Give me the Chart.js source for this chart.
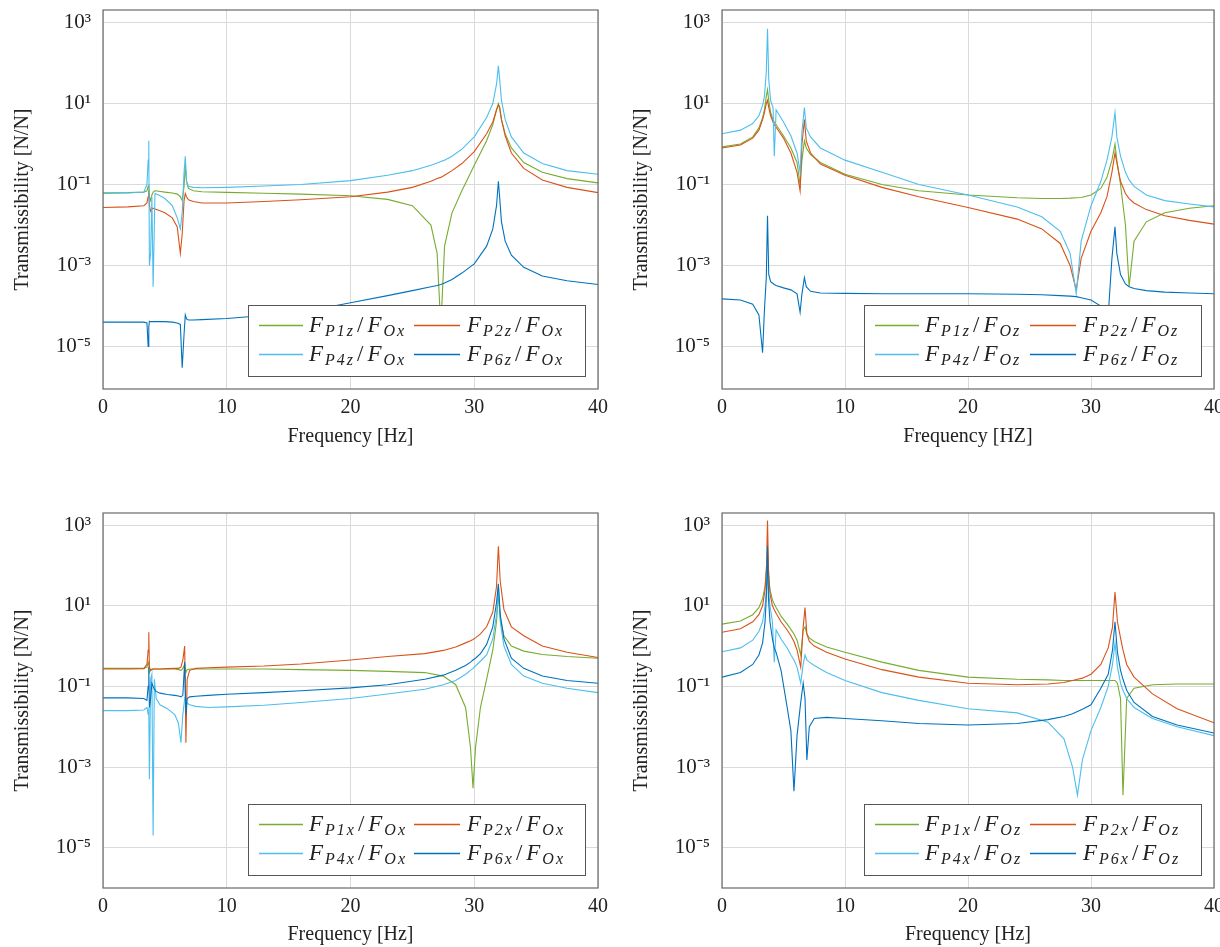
<!DOCTYPE html>
<html>
<head>
<meta charset="utf-8">
<script src="https://cdn.jsdelivr.net/npm/chart.js@4.4.1/dist/chart.umd.min.js"></script>
<style>
  html, body { margin: 0; padding: 0; background: #fff; overflow: hidden; width: 1220px; height: 947px; }
  canvas { position: absolute; }
</style>
</head>
<body>
<canvas id="tl" width="610" height="460" style="left:0;top:0"></canvas>
<canvas id="tr" width="625" height="460" style="left:610px;top:0"></canvas>
<canvas id="bl" width="610" height="477" style="left:0;top:470px"></canvas>
<canvas id="br" width="625" height="477" style="left:610px;top:470px"></canvas>
<script>
// ---- data ----
const yTickValues = [1e-5, 1e-3, 1e-1, 1e1, 1e3];
const yTickLabels = ['10\u207B\u2075', '10\u207B\u00B3', '10\u207B\u00B9', '10\u00B9', '10\u00B3'];
const xTitles = ['Frequency [Hz]', 'Frequency [HZ]', 'Frequency [Hz]', 'Frequency [Hz]'];
const yTitle = 'Transmissibility [N/N]';

// top left: F_Piz / F_Ox
const freqTL = [0, 2, 3.3, 3.55, 3.65, 3.7, 3.75, 3.85, 3.95, 4.05, 4.2, 4.5, 5, 5.6, 6.0, 6.25, 6.4, 6.55, 6.65, 6.75, 6.9, 7.3, 8, 10, 13, 16, 20, 23, 25, 26.5, 27.0, 27.3, 27.6, 28.2, 29, 30, 31, 31.5, 31.8, 31.95, 32.05, 32.2, 32.5, 33, 34, 35.5, 37.5, 40];
const tlP1z = [0.062, 0.063, 0.065, 0.07, 0.09, 0.1, 0.05, 0.04, 0.055, 0.065, 0.07, 0.068, 0.065, 0.062, 0.058, 0.05, 0.04, 0.09, 0.3, 0.12, 0.08, 0.07, 0.066, 0.064, 0.061, 0.058, 0.053, 0.043, 0.03, 0.01, 0.002, 0.00003, 0.003, 0.02, 0.07, 0.3, 1.2, 3, 7, 10, 8, 4, 1.8, 0.8, 0.35, 0.2, 0.14, 0.11];
const tlP2z = [0.027, 0.028, 0.03, 0.035, 0.05, 0.07, 0.03, 0.022, 0.025, 0.026, 0.025, 0.023, 0.02, 0.015, 0.009, 0.002, 0.006, 0.04, 0.06, 0.05, 0.042, 0.038, 0.035, 0.035, 0.038, 0.042, 0.05, 0.065, 0.085, 0.12, 0.14, 0.15, 0.17, 0.22, 0.33, 0.65, 1.8, 3.5, 7, 9, 8, 4, 1.6, 0.6, 0.25, 0.13, 0.085, 0.063];
const tlP4z = [0.06, 0.062, 0.065, 0.1, 0.4, 1.2, 0.001, 0.002, 0.05, 0.0003, 0.06, 0.055, 0.045, 0.03, 0.015, 0.008, 0.02, 0.2, 0.5, 0.12, 0.09, 0.085, 0.083, 0.085, 0.092, 0.1, 0.125, 0.17, 0.22, 0.3, 0.34, 0.37, 0.4, 0.5, 0.75, 1.5, 4.5, 10, 30, 85, 40, 12, 4, 1.5, 0.6, 0.33, 0.22, 0.18];
const tlP6z = [4e-5, 4e-5, 4e-5, 3.8e-5, 1e-5, 3e-5, 4.2e-5, 4.1e-5, 4.1e-5, 4.1e-5, 4.1e-5, 4.1e-5, 4.1e-5, 4e-5, 3.8e-5, 3.5e-5, 3e-6, 2e-5, 6e-5, 4.8e-5, 4.5e-5, 4.5e-5, 4.6e-5, 4.9e-5, 5.8e-5, 7e-5, 1.2e-4, 1.8e-4, 2.4e-4, 3e-4, 3.2e-4, 3.4e-4, 3.7e-4, 4.5e-4, 6.5e-4, 1.1e-3, 3e-3, 8e-3, 0.03, 0.12, 0.05, 0.012, 4e-3, 1.8e-3, 9e-4, 5.5e-4, 4.2e-4, 3.4e-4];

// top right: F_Piz / F_Oz
const freqTR = [0, 1.5, 2.5, 3.0, 3.3, 3.45, 3.6, 3.7, 3.8, 3.95, 4.15, 4.25, 4.4, 5, 5.6, 6.1, 6.35, 6.5, 6.7, 6.85, 7.2, 8, 10, 13, 16, 20, 24, 26, 27.5, 28.3, 28.8, 29.2, 30, 30.8, 31.3, 31.7, 31.95, 32.1, 32.4, 32.8, 33.1, 33.5, 34.5, 36, 38, 40];
const trP1z = [0.85, 1.0, 1.5, 2.5, 4.5, 7, 15, 22, 12, 6, 4, 3.5, 3, 1.6, 0.8, 0.35, 0.1, 0.4, 1.2, 0.8, 0.55, 0.35, 0.18, 0.1, 0.07, 0.055, 0.047, 0.045, 0.045, 0.046, 0.047, 0.048, 0.055, 0.08, 0.15, 0.4, 1.0, 0.4, 0.1, 0.01, 0.0003, 0.004, 0.012, 0.02, 0.026, 0.03];
const trP2z = [0.8, 0.95, 1.4, 2.2, 4, 6, 10, 12, 8, 5, 3.5, 3, 2.6, 1.4, 0.6, 0.2, 0.07, 1.0, 4, 1.2, 0.6, 0.32, 0.17, 0.085, 0.05, 0.027, 0.014, 0.008, 0.0035, 0.001, 0.00025, 0.0015, 0.007, 0.02, 0.05, 0.2, 0.6, 0.35, 0.12, 0.06, 0.045, 0.035, 0.024, 0.017, 0.013, 0.0105];
const trP4z = [1.8, 2.2, 3.2, 5, 9, 15, 60, 700, 40, 12, 8, 0.5, 7, 3.5, 1.6, 0.6, 0.2, 2, 8, 2.5, 1.5, 0.8, 0.4, 0.2, 0.1, 0.055, 0.028, 0.016, 0.007, 0.002, 0.0002, 0.004, 0.03, 0.12, 0.4, 1.5, 6, 1.5, 0.5, 0.2, 0.13, 0.09, 0.055, 0.04, 0.033, 0.028];
const trP6z = [1.5e-4, 1.4e-4, 1.1e-4, 6e-5, 7e-6, 8e-5, 5e-4, 0.017, 6e-4, 4e-4, 3.6e-4, 3.4e-4, 3.2e-4, 2.8e-4, 2.5e-4, 2e-4, 7e-5, 2e-4, 5e-4, 3e-4, 2.3e-4, 2.1e-4, 2.05e-4, 2e-4, 2e-4, 2e-4, 1.95e-4, 1.9e-4, 1.8e-4, 1.75e-4, 1.7e-4, 1.6e-4, 1.4e-4, 1e-4, 2e-5, 1.5e-3, 0.009, 2e-3, 6e-4, 3.5e-4, 3e-4, 2.7e-4, 2.4e-4, 2.2e-4, 2.1e-4, 2e-4];

// bottom left: F_Pix / F_Ox
const freqBL = [0, 2, 3.3, 3.55, 3.65, 3.7, 3.75, 3.85, 3.95, 4.05, 4.15, 4.3, 4.6, 5.2, 5.8, 6.1, 6.3, 6.45, 6.6, 6.7, 6.8, 7.0, 7.5, 8.5, 10, 13, 16, 20, 23, 26, 27.5, 28.5, 29.3, 29.7, 29.9, 30.1, 30.5, 31, 31.5, 31.8, 31.95, 32.1, 32.4, 33, 34, 35.5, 37.5, 40];
const blP1x = [0.28, 0.28, 0.28, 0.3, 0.4, 0.35, 0.22, 0.25, 0.27, 0.27, 0.27, 0.27, 0.27, 0.27, 0.27, 0.26, 0.25, 0.28, 0.35, 0.22, 0.26, 0.27, 0.27, 0.27, 0.27, 0.27, 0.26, 0.25, 0.235, 0.22, 0.18, 0.11, 0.03, 0.003, 0.0003, 0.003, 0.03, 0.15, 0.8, 4, 20, 5, 1.8, 1.0, 0.75, 0.62, 0.55, 0.5];
const blP2x = [0.27, 0.27, 0.275, 0.35, 0.8, 2.2, 0.3, 0.25, 0.26, 0.27, 0.27, 0.27, 0.27, 0.275, 0.28, 0.28, 0.3, 0.45, 1.0, 0.004, 0.15, 0.25, 0.28, 0.29, 0.3, 0.32, 0.36, 0.45, 0.55, 0.65, 0.78, 0.95, 1.2, 1.35, 1.45, 1.6, 2.0, 3, 7, 30, 300, 40, 8, 3, 1.8, 1.0, 0.7, 0.52];
const blP4x = [0.025, 0.025, 0.026, 0.03, 0.02, 0.03, 0.0005, 0.15, 0.2, 0.00002, 0.15, 0.05, 0.035, 0.028, 0.02, 0.012, 0.004, 0.02, 0.05, 0.04, 0.038, 0.035, 0.032, 0.03, 0.031, 0.034, 0.04, 0.05, 0.065, 0.085, 0.11, 0.14, 0.2, 0.25, 0.28, 0.32, 0.42, 0.6, 1.5, 6, 30, 4, 1.0, 0.35, 0.18, 0.12, 0.09, 0.07];
const blP6x = [0.052, 0.052, 0.05, 0.045, 0.1, 0.3, 0.03, 0.05, 0.12, 0.1, 0.085, 0.075, 0.068, 0.063, 0.06, 0.058, 0.055, 0.06, 0.4, 0.02, 0.05, 0.055, 0.057, 0.06, 0.064, 0.07, 0.078, 0.092, 0.11, 0.15, 0.19, 0.25, 0.33, 0.4, 0.45, 0.5, 0.65, 1.1, 3, 12, 35, 6, 1.5, 0.5, 0.28, 0.18, 0.14, 0.12];

// bottom right: F_Pix / F_Oz
const freqBR = [0, 1.5, 2.5, 3.0, 3.3, 3.5, 3.62, 3.7, 3.78, 3.9, 4.1, 4.25, 4.4, 4.8, 5.3, 5.6, 5.85, 6.1, 6.4, 6.6, 6.75, 6.9, 7.1, 7.5, 8.5, 10, 13, 16, 20, 24, 26.5, 27.8, 28.5, 28.9, 29.3, 30, 30.8, 31.4, 31.75, 31.95, 32.15, 32.4, 32.6, 32.9, 33.5, 35, 37, 40];
const brP1x = [3.5, 4.2, 6, 9, 15, 30, 80, 250, 60, 25, 14, 11, 9, 5.5, 3.5, 2.6, 2.0, 1.4, 0.6, 2.5, 3, 2.0, 1.6, 1.3, 0.95, 0.7, 0.4, 0.25, 0.17, 0.15, 0.145, 0.14, 0.14, 0.14, 0.14, 0.14, 0.14, 0.14, 0.14, 0.14, 0.12, 0.05, 0.0002, 0.05, 0.09, 0.11, 0.115, 0.115];
const brP2x = [2.2, 2.7, 4, 6, 10, 25, 100, 1300, 80, 20, 10, 8, 6.5, 4, 2.5, 1.8, 1.3, 0.8, 0.3, 3, 9, 2, 1.3, 1.0, 0.7, 0.48, 0.26, 0.17, 0.12, 0.11, 0.115, 0.125, 0.14, 0.15, 0.16, 0.2, 0.35, 0.9, 3, 22, 4, 1.6, 0.8, 0.35, 0.17, 0.065, 0.028, 0.0125];
const brP4x = [0.72, 0.9, 1.4, 2.3, 4, 10, 30, 60, 25, 10, 4, 0.4, 2.5, 1.5, 0.9, 0.6, 0.45, 0.3, 0.12, 0.35, 0.6, 0.45, 0.4, 0.33, 0.22, 0.14, 0.07, 0.045, 0.028, 0.022, 0.013, 0.005, 0.001, 0.0002, 0.0015, 0.008, 0.03, 0.1, 0.35, 1.2, 0.3, 0.12, 0.08, 0.05, 0.03, 0.016, 0.01, 0.006];
const brP6x = [0.17, 0.22, 0.35, 0.6, 1.2, 4, 20, 300, 15, 4, 1.5, 0.9, 0.7, 0.25, 0.03, 0.008, 0.00025, 0.006, 0.04, 0.12, 0.05, 0.0015, 0.01, 0.016, 0.017, 0.016, 0.014, 0.012, 0.011, 0.012, 0.015, 0.018, 0.021, 0.024, 0.027, 0.035, 0.09, 0.2, 0.8, 4, 0.7, 0.25, 0.15, 0.08, 0.04, 0.018, 0.011, 0.007];

const legendTL = [['P1z', 'Ox'], ['P2z', 'Ox'], ['P4z', 'Ox'], ['P6z', 'Ox']];
const legendTR = [['P1z', 'Oz'], ['P2z', 'Oz'], ['P4z', 'Oz'], ['P6z', 'Oz']];
const legendBL = [['P1x', 'Ox'], ['P2x', 'Ox'], ['P4x', 'Ox'], ['P6x', 'Ox']];
const legendBR = [['P1x', 'Oz'], ['P2x', 'Oz'], ['P4x', 'Oz'], ['P6x', 'Oz']];

// ---- styling ----
const colors = ['#77AC30', '#D95319', '#4DBEEE', '#0072BD'];
const serif = '"Liberation Serif", "Times New Roman", serif';

// F_{num}/F_{den} in math style
function drawFrac(ctx, x, y, num, den) {
  const big = 'italic 23px ' + serif, small = 'italic 16px ' + serif;
  ctx.letterSpacing = '2px';
  ctx.textBaseline = 'alphabetic';
  ctx.textAlign = 'left';
  ctx.font = big; ctx.fillText('F', x, y); x += ctx.measureText('F').width;
  ctx.font = small; ctx.fillText(num, x, y + 4); x += ctx.measureText(num).width + 2;
  ctx.font = '23px ' + serif; ctx.fillText('/', x, y); x += ctx.measureText('/').width + 2;
  ctx.font = big; ctx.fillText('F', x, y); x += ctx.measureText('F').width;
  ctx.font = small; ctx.fillText(den, x, y + 4);
  ctx.letterSpacing = '0px';
}

const framePlugin = {
  id: 'frameLegend',
  afterDraw(chart, args, opts) {
    const { ctx, chartArea: a } = chart;
    ctx.save();
    // legend box
    const w = 337, h = 71;
    const lx = a.right - 13 - w, ly = a.bottom - 13 - h;
    ctx.fillStyle = '#fff';
    ctx.fillRect(lx, ly, w, h);
    ctx.strokeStyle = '#555';
    ctx.lineWidth = 1;
    ctx.strokeRect(lx + 0.5, ly + 0.5, w, h);
    const cols = [[11, 55, 61], [166, 212, 219]];
    const rows = [20, 49];
    opts.labels.forEach((lab, i) => {
      const c = cols[i % 2], r = rows[Math.floor(i / 2)];
      ctx.strokeStyle = colors[i];
      ctx.lineWidth = 1.6;
      ctx.beginPath();
      ctx.moveTo(lx + c[0], ly + r + 0.5);
      ctx.lineTo(lx + c[1], ly + r + 0.5);
      ctx.stroke();
      ctx.fillStyle = '#222';
      drawFrac(ctx, lx + c[2], ly + r + 7, lab[0], lab[1]);
    });
    // axis frame
    ctx.strokeStyle = '#6a6a6a';
    ctx.lineWidth = 1.2;
    ctx.strokeRect(a.left, a.top, a.right - a.left, a.bottom - a.top);
    ctx.restore();
  }
};

function makePanel(id, freq, series, labels, xTitle, lay) {
  const datasets = series.map((vals, i) => ({
    data: freq.map((f, j) => ({ x: f, y: vals[j] })),
    borderColor: colors[i],
    borderWidth: 1.1,
    pointRadius: 0,
    tension: 0,
    fill: false,
    order: 3 - i
  }));
  new Chart(document.getElementById(id), {
    type: 'line',
    data: { datasets },
    plugins: [framePlugin],
    options: {
      responsive: false,
      animation: false,
      events: [],
      layout: { padding: { left: 0, top: lay.top, right: lay.right, bottom: 0 } },
      plugins: {
        legend: { display: false },
        tooltip: { enabled: false },
        frameLegend: { labels }
      },
      scales: {
        x: {
          type: 'linear',
          min: 0,
          max: 40,
          ticks: { stepSize: 10, padding: 7, color: '#222', font: { family: serif, size: 20 } },
          grid: { color: '#dadada', lineWidth: 1, drawTicks: false },
          border: { display: false },
          title: { display: true, text: xTitle, color: '#222', padding: { top: 0, bottom: lay.xTitlePad }, font: { family: serif, size: 20, lineHeight: 1.2 } },
          afterFit(s) { s.height = lay.xH; s.paddingLeft = 0; s.paddingRight = 0; }
        },
        y: {
          type: 'logarithmic',
          bounds: 'data',
          min: lay.ymin,
          max: lay.ymax,
          afterBuildTicks(s) { s.ticks = yTickValues.map(v => ({ value: v, major: true })); },
          ticks: {
            padding: 12,
            color: '#222',
            font: { family: serif, size: 21 },
            callback: (v, i) => yTickLabels[i]
          },
          grid: { color: '#dadada', lineWidth: 1, drawTicks: false },
          border: { display: false },
          title: { display: true, text: yTitle, color: '#222', padding: { top: lay.yTitlePad, bottom: 0 }, font: { family: serif, size: 20, lineHeight: 1.2 } },
          afterFit(s) { s.width = lay.yW; s.paddingTop = 0; s.paddingBottom = 0; }
        }
      }
    }
  });
}

const topLay = { top: 10, xH: 71, xTitlePad: 11, ymin: Math.pow(10, -6.05), ymax: Math.pow(10, 3.31) };
const botLay = { top: 43, xH: 59, xTitlePad: 0, ymin: Math.pow(10, -6.0), ymax: Math.pow(10, 3.3) };

makePanel('tl', freqTL, [tlP1z, tlP2z, tlP4z, tlP6z], legendTL, xTitles[0], Object.assign({ yW: 103, right: 12, yTitlePad: 11 }, topLay));
makePanel('tr', freqTR, [trP1z, trP2z, trP4z, trP6z], legendTR, xTitles[1], Object.assign({ yW: 112, right: 21, yTitlePad: 20 }, topLay));
makePanel('bl', freqBL, [blP1x, blP2x, blP4x, blP6x], legendBL, xTitles[2], Object.assign({ yW: 103, right: 12, yTitlePad: 11 }, botLay));
makePanel('br', freqBR, [brP1x, brP2x, brP4x, brP6x], legendBR, xTitles[3], Object.assign({ yW: 112, right: 21, yTitlePad: 20 }, botLay));
</script>
</body>
</html>
